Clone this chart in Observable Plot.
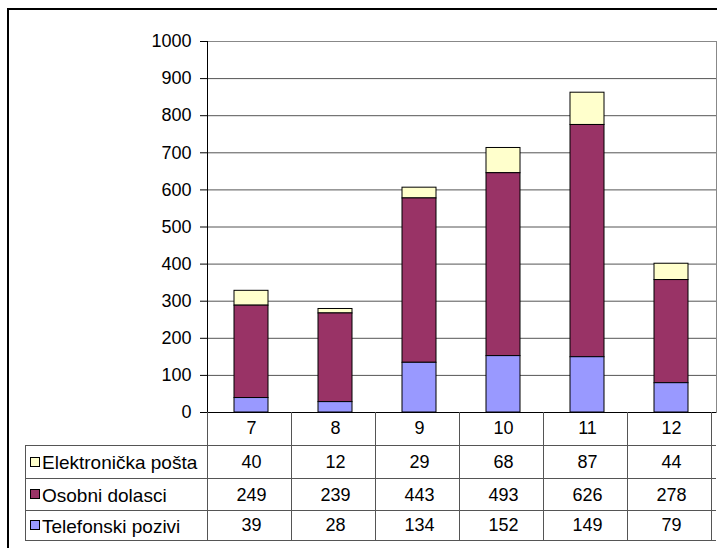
<!DOCTYPE html>
<html>
<head>
<meta charset="utf-8">
<script src="https://cdn.jsdelivr.net/npm/d3@7"></script>
<script src="https://cdn.jsdelivr.net/npm/@observablehq/plot@0.6"></script>
<style>
  html, body { margin: 0; padding: 0; background: #fff; }
  #chart svg { display: block; }
</style>
</head>
<body>
<div id="chart"></div>
<script>
const months = ["7", "8", "9", "10", "11", "12"];
const seriesNames = ["Elektronička pošta", "Osobni dolasci", "Telefonski pozivi"];
const seriesColors = ["#FFFFCC", "#993366", "#9999FF"];
const email = [40, 12, 29, 68, 87, 44];
const visits = [249, 239, 443, 493, 626, 278];
const phone = [39, 28, 134, 152, 149, 79];
const yTicks = [0, 100, 200, 300, 400, 500, 600, 700, 800, 900, 1000];

const seriesValues = [email, visits, phone];
const data = [];
months.forEach((m, i) => {
  seriesNames.forEach((s, j) => data.push({month: m, series: s, value: seriesValues[j][i]}));
});

const W = 717, H = 548;
const mLeft = 207, mRight = 1, mTop = 41, mBottom = 136;
const font = "Liberation Sans, Arial, sans-serif";
const fs = 18;
const labelFs = 19;
const rowDy = [50, 83, 113]; // table rows under the axis (email, visits, phone)

const marks = [
  Plot.gridY({ticks: yTicks, stroke: "#555", strokeOpacity: 1}),
  Plot.frame({stroke: "#888"}),
  Plot.barY(data, {
    x: "month", y: "value", fill: "series",
    order: ["Telefonski pozivi", "Osobni dolasci", "Elektronička pošta"],
    stroke: "#000", strokeWidth: 1
  }),
  Plot.ruleY([0], {stroke: "#000", strokeWidth: 1}),
  Plot.axisY({ticks: yTicks, tickSize: 7, tickPadding: 9, fontSize: fs, tickFormat: d => String(d), label: null, stroke: "#000"}),
  Plot.text(months, {x: d => d, text: d => d, frameAnchor: "bottom", lineAnchor: "middle", dy: 16, fontSize: fs, fill: "#000"})
];
seriesNames.forEach((s, j) => {
  marks.push(Plot.text(data.filter(d => d.series === s), {
    x: "month", text: d => String(d.value), frameAnchor: "bottom", lineAnchor: "middle", dy: rowDy[j], fontSize: fs, fill: "#000"
  }));
});

const plot = Plot.plot({
  width: W, height: H,
  marginLeft: mLeft, marginRight: mRight, marginTop: mTop, marginBottom: mBottom,
  style: {fontFamily: font, fontSize: fs + "px", color: "#000", background: "#fff"},
  x: {domain: months, paddingInner: 0.59, paddingOuter: 0.295, axis: null},
  y: {domain: [0, 1000], axis: null},
  color: {domain: seriesNames, range: seriesColors},
  marks
});

document.getElementById("chart").appendChild(plot);

// Data table lines, legend keys, axis line & outer border
const svg = d3.select(plot);
const xs = plot.scale("x");
const step = xs.step;
const x0 = mLeft, x1 = W - mRight;
const yAxis0 = H - mBottom; // 412
const rowLines = [445, 478, 510, 540];
const tableLeft = 25;
const g = svg.append("g").attr("stroke", "#555").attr("stroke-width", 1).attr("shape-rendering", "crispEdges");

// vertical lines between columns
for (let i = 0; i <= months.length; i++) {
  const x = Math.round(x0 + i * step) + 0.5;
  g.append("line").attr("x1", x).attr("x2", x).attr("y1", yAxis0).attr("y2", rowLines[3]);
}
// horizontal lines
rowLines.forEach(y => {
  g.append("line").attr("x1", tableLeft).attr("x2", x1).attr("y1", y + 0.5).attr("y2", y + 0.5);
});
g.append("line").attr("x1", tableLeft + 0.5).attr("x2", tableLeft + 0.5).attr("y1", rowLines[0]).attr("y2", rowLines[3]);

// y axis line
svg.append("line").attr("x1", x0 + 0.5).attr("x2", x0 + 0.5).attr("y1", mTop).attr("y2", yAxis0)
  .attr("stroke", "#000").attr("shape-rendering", "crispEdges");

// row labels with keys
seriesNames.forEach((s, j) => {
  const cy = (rowLines[j] + rowLines[j + 1]) / 2;
  svg.append("rect").attr("x", 30.5).attr("y", Math.round(cy - 5) + 0.5).attr("width", 9).attr("height", 9)
    .attr("fill", seriesColors[j]).attr("stroke", "#000").attr("stroke-width", 1);
  svg.append("text").attr("x", 42).attr("y", cy + 1).attr("dy", "0.35em")
    .attr("text-anchor", "start")
    .attr("font-family", font).attr("font-size", labelFs).attr("fill", "#000").text(s);
});

// outer chart border (clipped at right/bottom)
svg.append("path").attr("d", `M8,${H + 5}V9H${W + 5}`).attr("fill", "none")
  .attr("stroke", "#000").attr("stroke-width", 2);
</script>
</body>
</html>
